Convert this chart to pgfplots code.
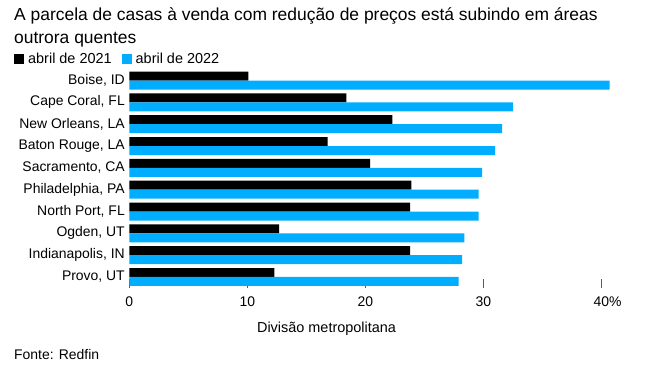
\documentclass[border=0pt]{standalone}
\usepackage{pgfplots}
\pgfplotsset{compat=1.18}
\usepackage{fontspec}
\setmainfont{Liberation Sans}
\definecolor{bblue}{HTML}{00ADFF}
\begin{document}
\begin{tikzpicture}[x=1bp,y=1bp]
\useasboundingbox (0,0) rectangle (654,-370);
\node[anchor=base west, inner sep=0pt, font=\fontsize{17.5}{21}\selectfont] at (14,-20) {A parcela de casas à venda com redução de preços está subindo em áreas};
\node[anchor=base west, inner sep=0pt, font=\fontsize{17.5}{21}\selectfont] at (14,-43) {outrora quentes};
\begin{axis}[
  at={(129.3bp,-287.9bp)}, anchor=south west,
  scale only axis, width=495.6bp, height=218.3bp,
  xmin=0, xmax=42, ymin=-0.5, ymax=9.5,
  xbar, bar width=0.412,
  x axis line style={draw=none}, y axis line style={draw=none},
  axis x line*=bottom, axis y line*=left,
  xtick={0,10,20,30,40},
  xticklabels={0,10,20,30,{40\rlap{\%}}},
  tick align=inside, major tick length=9bp,
  xtick style={draw=black!65, line width=0.8bp},
  ytick style={draw=none},
  ytick={0,...,9},
  yticklabels={{Provo, UT},{Indianapolis, IN},{Ogden, UT},{North Port, FL},{Philadelphia, PA},{Sacramento, CA},{Baton Rouge, LA},{New Orleans, LA},{Cape Coral, FL},{Boise, ID}},
  ticklabel style={font=\fontsize{14}{16}\selectfont},
  xticklabel style={anchor=base, yshift=-19bp},
  yticklabel style={anchor=east, xshift=-1bp},
  xlabel={Divisão metropolitana},
  xlabel style={font=\fontsize{14.5}{16}\selectfont, at={(axis description cs:0.398,0)}, anchor=base, yshift=-45bp},
  legend columns=2,
  legend style={at={(axis description cs:-0.2327,1.047)}, anchor=west, draw=none, fill=none, inner sep=0pt,
    font=\fontsize{14.5}{16}\selectfont, nodes={inner sep=0pt},
    /tikz/every odd column/.append style={column sep=4bp},
    /tikz/every even column/.append style={column sep=10bp}},
  legend image code/.code={\fill[#1] (0bp,-5bp) rectangle (10bp,5bp);},
  clip=false,
]
\addplot[fill=black, draw=none, bar shift=0.206] coordinates {(12.3,0) (23.8,1) (12.7,2) (23.8,3) (23.9,4) (20.4,5) (16.8,6) (22.3,7) (18.4,8) (10.1,9)};
\addlegendentry{abril de 2021}
\addplot[fill=bblue, draw=none, bar shift=-0.206] coordinates {(27.9,0) (28.2,1) (28.4,2) (29.6,3) (29.6,4) (29.9,5) (31.0,6) (31.6,7) (32.5,8) (40.7,9)};
\addlegendentry{abril de 2022}
\end{axis}
\node[anchor=base west, inner sep=0pt, font=\fontsize{14}{16}\selectfont] at (14,-359) {Fonte: Redfin};
\end{tikzpicture}
\end{document}
